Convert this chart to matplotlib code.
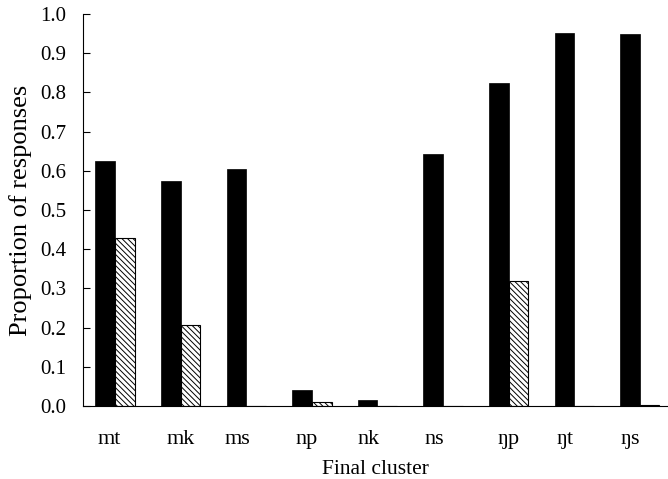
import numpy as np
import matplotlib
matplotlib.use("Agg")
import matplotlib.pyplot as plt

plt.rcParams['font.family'] = ['Liberation Serif', 'DejaVu Serif']
plt.rcParams['hatch.linewidth'] = 0.7

clusters = ['mt', 'mk', 'ms', 'np', 'nk', 'ns', 'ŋp', 'ŋt', 'ŋs']
solid = [0.625, 0.573, 0.605, 0.040, 0.015, 0.643, 0.823, 0.952, 0.948]
hatched = [0.428, 0.207, 0.0, 0.010, 0.0, 0.0, 0.318, 0.0, 0.003]
# small shift of each tick label, as in the original
label_shift = [-0.09, 0.0, -0.14, -0.08, -0.14, -0.14, 0.0, -0.14, -0.14]

fig = plt.figure(figsize=(6.68, 4.79), dpi=100)
ax = fig.add_axes([0.1243, 0.1524, 0.8757, 0.8184])

x = np.arange(len(clusters))
w = 0.3
ax.bar(x - w / 2, solid, w, color='black', edgecolor='black', linewidth=0.5)
ax.bar(x + w / 2, hatched, w, color='white', edgecolor='black',
       hatch='\\' * 6, linewidth=0.8)

ax.set_xlim(-0.49, 8.43)
ax.set_ylim(0, 1.0)
ax.set_yticks(np.arange(0, 1.01, 0.1))
ax.set_yticklabels(['%.1f' % v for v in np.arange(0, 1.01, 0.1)], fontsize=15)
ax.set_xticks(x + np.array(label_shift))
ax.set_xticklabels(clusters, fontsize=16)
ax.tick_params(axis='y', direction='in', length=5, width=0.8, pad=12)
ax.tick_params(axis='x', length=0, pad=17)

for s in ['top', 'right']:
    ax.spines[s].set_visible(False)
ax.spines['left'].set_linewidth(0.8)
ax.spines['bottom'].set_linewidth(0.8)

ax.set_xlabel('Final cluster', fontsize=15.5, labelpad=8)
ax.set_ylabel('Proportion of responses', fontsize=19, labelpad=6)

plt.savefig('out.png', dpi=100)
